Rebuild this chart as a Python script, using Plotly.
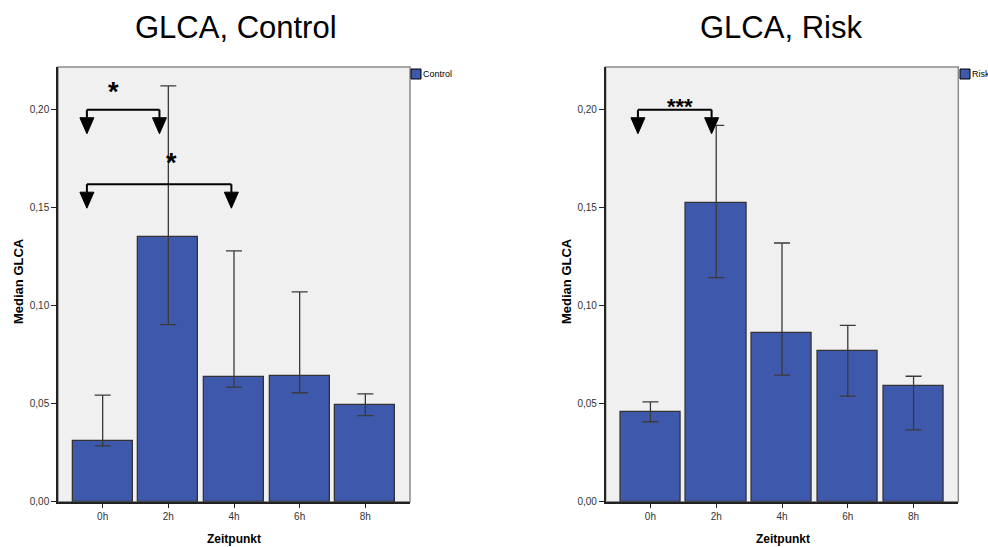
import plotly.graph_objects as go

# ---------------- data ----------------
timepoints = ["0h", "2h", "4h", "6h", "8h"]
control_median = [0.0311, 0.1352, 0.0635, 0.0640, 0.0493]
control_upper = [0.0544, 0.2122, 0.1280, 0.1071, 0.0550]
control_lower = [0.0285, 0.0903, 0.0585, 0.0556, 0.0439]
risk_median = [0.0458, 0.1526, 0.0859, 0.0769, 0.0592]
risk_upper = [0.0509, 0.1920, 0.1320, 0.0900, 0.0640]
risk_lower = [0.0408, 0.1143, 0.0646, 0.0539, 0.0366]
y_ticks = [0.00, 0.05, 0.10, 0.15, 0.20]
# significance brackets: (from-pos, to-pos, height, label)
control_sig = [(-0.24, 0.865, 0.200, "*"), (-0.24, 1.96, 0.162, "*")]
risk_sig = [(-0.19, 0.93, 0.200, "***")]

W, H = 988, 547
FONT = "Arial, Liberation Sans, sans-serif"
BAR = "#3E58AC"
xpos = list(range(len(timepoints)))

fig = go.Figure()


def add_panel(med, up, lo, name, xa, ya):
    fig.add_trace(go.Bar(
        x=xpos, y=med, name=name, xaxis=xa, yaxis=ya, width=0.915,
        marker=dict(color=BAR, line=dict(color="#333333", width=1.3)),
        error_y=dict(type="data", symmetric=False,
                     array=[u - m for u, m in zip(up, med)],
                     arrayminus=[m - l for m, l in zip(med, lo)],
                     color="#3a3a3a", thickness=1.3, width=8),
        showlegend=False,
    ))


add_panel(control_median, control_upper, control_lower, "Control", "x", "y")
add_panel(risk_median, risk_upper, risk_lower, "Risk", "x2", "y2")

shapes = []
annotations = []


def sig_shapes(sig, xr, yr):
    for x0, x1, y, lab in sig:
        shapes.append(dict(type="line", xref=xr, yref=yr, x0=x0, x1=x1, y0=y, y1=y,
                           line=dict(color="black", width=2)))
        for xx in (x0, x1):
            shapes.append(dict(type="path", xref=xr, yref=yr, xsizemode="pixel",
                               ysizemode="pixel", xanchor=xx, yanchor=y,
                               path="M0,0 L0,-8", line=dict(color="black", width=2)))
            shapes.append(dict(type="path", xref=xr, yref=yr, xsizemode="pixel",
                               ysizemode="pixel", xanchor=xx, yanchor=y,
                               path="M-7,-8 L7,-8 L0,-24 Z", fillcolor="black",
                               line=dict(color="black", width=1)))


sig_shapes(control_sig, "x", "y")
sig_shapes(risk_sig, "x2", "y2")

# asterisk labels
annotations.append(dict(x=0.165, y=0.2005, xref="x", yref="y", text="<b>*</b>", showarrow=False,
                        font=dict(family=FONT, size=27, color="black"), yanchor="bottom"))
annotations.append(dict(x=1.055, y=0.164, xref="x", yref="y", text="<b>*</b>", showarrow=False,
                        font=dict(family=FONT, size=27, color="black"), yanchor="bottom"))
annotations.append(dict(x=0.455, y=0.1945, xref="x2", yref="y2", text="<b>***</b>", showarrow=False,
                        font=dict(family=FONT, size=22, color="black"), yanchor="bottom"))

# plot borders
for xr, yr in (("x domain", "y domain"), ("x2 domain", "y2 domain")):
    shapes.append(dict(type="rect", xref=xr, yref=yr, x0=0, x1=1, y0=0, y1=1,
                       line=dict(color="#8c8c8c", width=1.5), layer="below"))

# legends (swatch + label)
for x_sw, name in ((411, "Control"), (960, "Risk")):
    shapes.append(dict(type="rect", xref="paper", yref="paper",
                       x0=x_sw / W, x1=(x_sw + 10) / W, y0=1 - 79 / H, y1=1 - 69 / H,
                       fillcolor=BAR, line=dict(color="black", width=1)))
    annotations.append(dict(x=(x_sw + 10) / W, y=1 - 74 / H, xref="paper", yref="paper",
                            text=name, showarrow=False, xanchor="left", yanchor="middle",
                            font=dict(family=FONT, size=9, color="black")))

# titles
for xc, txt in ((235.5, "GLCA, Control"), (781, "GLCA, Risk")):
    annotations.append(dict(x=xc / W, y=1 - 27 / H, xref="paper", yref="paper", text=txt,
                            showarrow=False, font=dict(family=FONT, size=31, color="black"),
                            xanchor="center", yanchor="middle"))
# axis titles
for xc in (18, 566):
    annotations.append(dict(x=xc / W, y=1 - 281 / H, xref="paper", yref="paper",
                            text="<b>Median GLCA</b>", textangle=-90, showarrow=False,
                            font=dict(family=FONT, size=13, color="black"),
                            xanchor="center", yanchor="middle"))
for xc in (234, 783):
    annotations.append(dict(x=xc / W, y=1 - 539 / H, xref="paper", yref="paper",
                            text="<b>Zeitpunkt</b>", showarrow=False,
                            font=dict(family=FONT, size=12, color="black"),
                            xanchor="center", yanchor="middle"))

ydom = [45.3 / H, 1 - 67 / H]
xcommon = dict(tickvals=xpos, ticktext=timepoints, range=[-0.68, 4.68], showline=True,
               linecolor="#222222", linewidth=1.5, ticks="outside", ticklen=5,
               tickcolor="#222222", tickfont=dict(family=FONT, size=10, color="#333333"),
               showgrid=False, zeroline=False, automargin=False)
ycommon = dict(range=[0, 0.2218], tickvals=y_ticks, tickformat=".2f", showline=True,
               linecolor="#222222", linewidth=1.5, ticks="outside", ticklen=5,
               tickcolor="#222222", tickfont=dict(family=FONT, size=10, color="#333333"),
               showgrid=False, zeroline=False, domain=ydom, automargin=False)

fig.update_layout(
    width=W, height=H, margin=dict(l=0, r=0, t=0, b=0, autoexpand=False),
    paper_bgcolor="white", plot_bgcolor="#f0f0f0", separators=",.",
    font=dict(family=FONT), showlegend=False,
    xaxis=dict(domain=[58 / W, 410 / W], anchor="y", **xcommon),
    yaxis=dict(anchor="x", **ycommon),
    xaxis2=dict(domain=[605.7 / W, 958.3 / W], anchor="y2", **xcommon),
    yaxis2=dict(anchor="x2", **ycommon),
    shapes=shapes, annotations=annotations, bargap=0,
)

fig.write_html("out.html")
